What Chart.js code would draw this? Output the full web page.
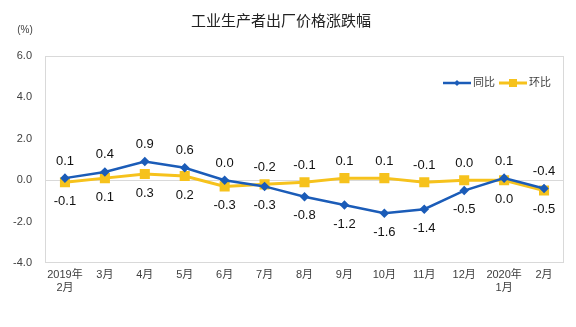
<!DOCTYPE html>
<html>
<head>
<meta charset="utf-8">
<script src="https://cdn.jsdelivr.net/npm/chart.js@4/dist/chart.umd.min.js"></script>
<style>
  html, body { margin: 0; padding: 0; background: #fff; }
  #wrap { width: 576px; height: 327px; position: relative; }
</style>
</head>
<body>
<div id="wrap"><canvas id="ppi-chart"></canvas></div>
<script>
// Months on the category axis
const months = [['2019年', '2月'], '3月', '4月', '5月', '6月', '7月', '8月', '9月', '10月', '11月', '12月', ['2020年', '1月'], '2月'];

// Year-on-year and month-on-month change (%)
const yoy = [0.1, 0.4, 0.9, 0.6, 0.0, -0.3, -0.8, -1.2, -1.6, -1.4, -0.5, 0.1, -0.4];
const mom = [-0.1, 0.1, 0.3, 0.2, -0.3, -0.2, -0.1, 0.1, 0.1, -0.1, 0.0, 0.0, -0.5];

const yTicks = [-4, -2, 0, 2, 4, 6];

const fontFamily = "'Liberation Sans', 'Noto Sans CJK SC', sans-serif";
const blue = '#1b5cb8';
const yellow = '#f6c21c';
const frameColor = '#d9d9d9';

// Title, unit, frame, legend and value labels
const decorations = {
  id: 'decorations',
  beforeDatasetsDraw(chart) {
    const { ctx, chartArea: a } = chart;
    ctx.save();
    ctx.strokeStyle = frameColor;
    ctx.lineWidth = 1;
    ctx.strokeRect(a.left + 0.5, a.top + 0.5, a.right - a.left - 1, a.bottom - a.top - 1);
    ctx.restore();
  },
  afterDatasetsDraw(chart) {
    const { ctx, chartArea: a } = chart;
    ctx.save();

    ctx.fillStyle = '#222';
    ctx.textAlign = 'center';
    ctx.textBaseline = 'middle';
    ctx.font = `15px ${fontFamily}`;
    ctx.fillText('工业生产者出厂价格涨跌幅', 281, 22);

    ctx.fillStyle = '#404040';
    ctx.font = `10px ${fontFamily}`;
    ctx.fillText('(%)', 25, 30);

    // legend, top right inside the plot
    let x = 443;
    const y = 83;
    chart.data.datasets.forEach(ds => {
      ctx.strokeStyle = ds.borderColor;
      ctx.lineWidth = ds.borderWidth;
      ctx.beginPath();
      ctx.moveTo(x, y);
      ctx.lineTo(x + 28, y);
      ctx.stroke();
      ctx.fillStyle = ds.borderColor;
      if (ds.pointStyle === 'rect') {
        ctx.fillRect(x + 10, y - 4, 8, 8);
      } else {
        ctx.beginPath();
        ctx.moveTo(x + 14, y - 3);
        ctx.lineTo(x + 17, y);
        ctx.lineTo(x + 14, y + 3);
        ctx.lineTo(x + 11, y);
        ctx.closePath();
        ctx.fill();
      }
      ctx.fillStyle = '#404040';
      ctx.textAlign = 'left';
      ctx.font = `11px ${fontFamily}`;
      ctx.fillText(ds.label, x + 30, y);
      x += 30 + ctx.measureText(ds.label).width + 4;
    });

    // value labels: the higher series above its point, the lower one below
    const yScale = chart.scales.y;
    const xScale = chart.scales.x;
    ctx.fillStyle = '#111';
    ctx.textAlign = 'center';
    ctx.font = `13px ${fontFamily}`;
    months.forEach((_, i) => {
      const px = xScale.getPixelForValue(i);
      const blueUp = yoy[i] >= mom[i];
      const up = blueUp ? yoy[i] : mom[i];
      const down = blueUp ? mom[i] : yoy[i];
      ctx.fillText(up.toFixed(1), px, yScale.getPixelForValue(up) - 17);
      ctx.fillText(down.toFixed(1), px, yScale.getPixelForValue(down) + 19);
    });
    ctx.restore();
  }
};

new Chart(document.getElementById('ppi-chart'), {
  type: 'line',
  data: {
    labels: months,
    datasets: [
      {
        label: '同比',
        data: yoy,
        borderColor: blue,
        backgroundColor: blue,
        borderWidth: 2.5,
        pointStyle: 'rectRot',
        pointRadius: 3,
        tension: 0
      },
      {
        label: '环比',
        data: mom,
        borderColor: yellow,
        backgroundColor: yellow,
        borderWidth: 3,
        pointStyle: 'rect',
        pointRadius: 5,
        tension: 0
      }
    ]
  },
  options: {
    responsive: true,
    maintainAspectRatio: false,
    animation: false,
    layout: { padding: { top: 56, right: 12, left: 0, bottom: 0 } },
    plugins: {
      legend: { display: false },
      tooltip: { enabled: false }
    },
    scales: {
      x: {
        offset: true,
        grid: { display: false, drawTicks: false },
        border: { display: false },
        ticks: {
          color: '#404040',
          font: { family: fontFamily, size: 11 },
          padding: 5,
          maxRotation: 0,
          autoSkip: false
        },
        afterFit(scale) { scale.height = 64; }
      },
      y: {
        min: yTicks[0],
        max: yTicks[yTicks.length - 1],
        afterBuildTicks(scale) { scale.ticks = yTicks.map(v => ({ value: v })); },
        grid: {
          drawTicks: false,
          color: ctx => (ctx.tick && ctx.tick.value === 0 ? frameColor : 'transparent')
        },
        border: { display: false },
        ticks: {
          color: '#404040',
          font: { family: fontFamily, size: 11 },
          padding: 13,
          callback: v => Number(v).toFixed(1)
        },
        afterFit(scale) { scale.width = 45; }
      }
    }
  },
  plugins: [decorations]
});
</script>
</body>
</html>
